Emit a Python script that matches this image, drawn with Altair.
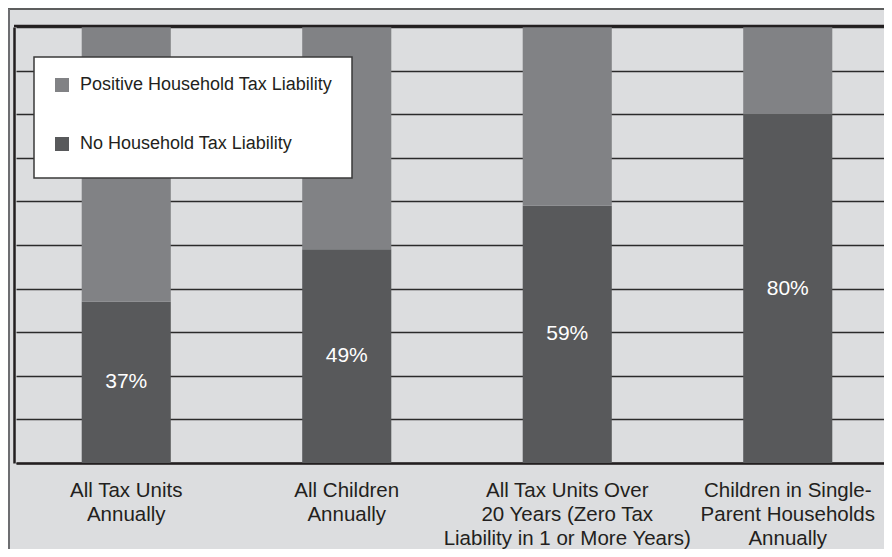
import altair as alt
import pandas as pd

# ---- data ----
category_lines = [
    ["All Tax Units", "Annually"],
    ["All Children", "Annually"],
    ["All Tax Units Over", "20 Years (Zero Tax", "Liability in 1 or More Years)"],
    ["Children in Single-", "Parent Households", "Annually"],
]
categories = ["|".join(c) for c in category_lines]
no_liability = [37, 49, 59, 80]
positive_liability = [63, 51, 41, 20]
series_names = ["Positive Household Tax Liability", "No Household Tax Liability"]

rows = []
for c, n, p in zip(categories, no_liability, positive_liability):
    rows.append({"cat": c, "series": series_names[1], "value": n, "ord": 0})
    rows.append({"cat": c, "series": series_names[0], "value": p, "ord": 1})
df = pd.DataFrame(rows)

FONT = "Liberation Sans"
TEXT = "#231f20"
W, H = 870, 436

x_enc = alt.X(
    "cat:N",
    sort=categories,
    scale=alt.Scale(range=[2, 884], paddingInner=0.596, paddingOuter=0.298),
    axis=alt.Axis(
        title=None, ticks=False, tickSize=0, domain=True, domainColor=TEXT,
        domainWidth=2.5, labelAngle=0, labelExpr="split(datum.label, '|')",
        labelFont=FONT, labelFontSize=20.5, labelColor=TEXT, labelLineHeight=24,
        labelPadding=17, labelBaseline="top", labelOverlap=False, labelBound=False,
        labelFlush=False, labelLimit=0, grid=False,
    ),
)

bars = alt.Chart(df).mark_bar().encode(
    x=x_enc,
    y=alt.Y(
        "value:Q", stack="zero",
        scale=alt.Scale(domain=[0, 100], nice=False, zero=True),
        axis=alt.Axis(
            title=None, labels=False, ticks=False, domain=True, domainColor=TEXT,
            domainWidth=2.5, grid=True, gridColor="#2a2a2a", gridWidth=1.3,
            values=list(range(0, 101, 10)),
        ),
    ),
    color=alt.Color(
        "series:N",
        scale=alt.Scale(domain=series_names, range=["#818285", "#58595b"]),
        legend=alt.Legend(
            title=" ", titleOrient="bottom", titleFontSize=1, titlePadding=5,
            orient="none", legendX=20, legendY=30,
            fillColor="white", strokeColor="#3a3a3a",
            padding=19, rowPadding=41, symbolType="square", symbolSize=196,
            symbolStrokeWidth=0, labelFont=FONT, labelFontSize=18,
            labelColor=TEXT, labelOffset=9, labelLimit=0, offset=0,
        ),
    ),
    order=alt.Order("ord:Q"),
)

labels = alt.Chart(df).transform_filter(
    alt.datum.ord == 0
).transform_calculate(
    mid="datum.value / 2",
    txt="datum.value + '%'",
).mark_text(
    color="white", font=FONT, fontSize=21, baseline="middle", align="center"
).encode(
    x=alt.X("cat:N", sort=categories),
    y=alt.Y("mid:Q"),
    text="txt:N",
)

one = pd.DataFrame({"k": [0]})
top_border = alt.Chart(one).mark_rule(color=TEXT, strokeWidth=2.5).encode(
    x=alt.value(0), x2=alt.value(W), y=alt.value(-1)
)
frame_top = alt.Chart(one).mark_rule(color="#333333", strokeWidth=1.5).encode(
    x=alt.value(-6), x2=alt.value(W), y=alt.value(-18)
)
frame_left = alt.Chart(one).mark_rule(color="#6d6e71", strokeWidth=2).encode(
    x=alt.value(-5), y=alt.value(-18), y2=alt.value(540)
)

chart = alt.layer(bars, labels, top_border, frame_top, frame_left).properties(
    width=W, height=H,
    autosize=alt.AutoSizeParams(type="none"),
    padding={"left": 6, "top": 19, "right": 0, "bottom": 86},
    background="#dcdddf",
).configure_view(strokeWidth=0).configure_legend(strokeWidth=1.5)

chart.save("out.html", embed_options={"renderer": "svg", "actions": False})
